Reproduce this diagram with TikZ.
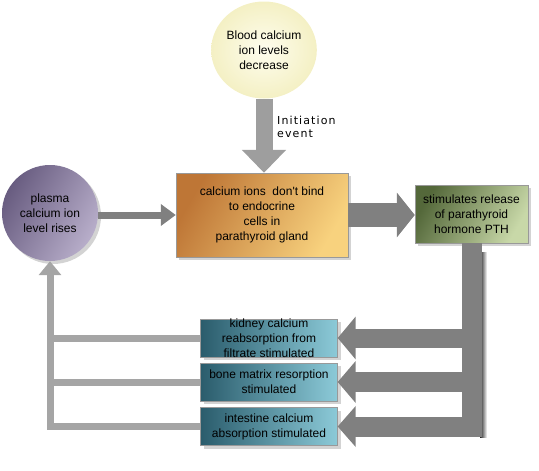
\documentclass[tikz,border=0pt]{standalone}
\usepackage{fontspec}
\setmainfont{Liberation Sans}
\newfontfamily\notefont{DejaVu Sans}[LetterSpace=10]
\usetikzlibrary{arrows.meta,shadows,shapes.geometric}
\definecolor{flowgray}{RGB}{128,128,128}
\definecolor{liftgray}{RGB}{158,158,158}
\definecolor{backgray}{RGB}{165,165,165}
\definecolor{bloodin}{RGB}{254,253,238}
\definecolor{bloodout}{RGB}{244,240,196}
\definecolor{plasmaA}{RGB}{104,92,128}
\definecolor{plasmaB}{RGB}{184,174,202}
\definecolor{glandA}{RGB}{190,118,54}
\definecolor{glandB}{RGB}{248,210,126}
\definecolor{pthA}{RGB}{84,104,58}
\definecolor{pthB}{RGB}{200,216,168}
\definecolor{tealA}{RGB}{42,92,108}
\definecolor{tealB}{RGB}{140,202,216}
\begin{document}
\begin{tikzpicture}[x=1pt, y=-1pt, >=Triangle,
  every node/.style={font=\fontsize{12}{15}\selectfont, align=center, inner sep=0pt},
  boxshadow/.style={drop shadow={shadow xshift=3pt, shadow yshift=-3pt, opacity=.35}},
  box/.style={rectangle, draw=gray!80, boxshadow},
  effect/.style={box, minimum width=137pt, minimum height=38pt, left color=tealA, right color=tealB},
  flow/.style={draw=flowgray, line width=#1},
  back/.style={draw=backgray, line width=7pt}
]
\useasboundingbox (0,0) rectangle (539,471);

\node[ellipse, minimum width=84pt, minimum height=97pt, inner color=bloodin, outer color=bloodout] (blood) at (264,50) {Blood calcium\\ion levels\\decrease};
\node[anchor=north west, align=left, font=\notefont\fontsize{11}{13}\selectfont] (note) at (277,116) {Initiation\\event};
\node[circle, minimum size=96pt, left color=plasmaA, right color=plasmaB, shading angle=60, boxshadow] (plasma) at (50,213) {plasma\\calcium ion\\level rises};
\node[box, minimum width=172pt, minimum height=84pt, left color=glandA, right color=glandB, shading angle=60] (gland) at (262,215) {calcium ions~ don\textquotesingle t bind\\to endocrine\\cells in\\parathyroid gland};
\node[box, minimum width=113pt, minimum height=58pt, left color=pthA, right color=pthB, shading angle=60] (pth) at (471.5,214) {stimulates release\\of parathyroid\\hormone PTH};
\node[effect, inner ysep=-4pt] (kidney) at (269,338) {kidney calcium\\reabsorption from\\filtrate stimulated};
\node[effect] (bone) at (269,382) {bone matrix resorption\\stimulated};
\node[effect] (intestine) at (269,426.5) {intestine calcium\\absorption stimulated};

\draw[flow=17pt, draw=liftgray, -{Triangle[width=43pt,length=23pt]}] (blood.south) -- (blood.south |- gland.north);
\draw[flow=7pt, -{Triangle[width=21pt,length=15pt]}] (plasma.east |- gland) -- (gland.west);
\draw[flow=24pt, -{Triangle[width=44pt,length=18pt]}] (gland.east) -- (gland.east -| pth.west);

\shade[left color=black!85, right color=white] (480,252) rectangle (487,437);
\draw[flow=19pt, -{Triangle[width=42pt,length=18pt]}] (pth.south) |- (kidney.east);
\draw[flow=20pt, -{Triangle[width=41pt,length=18pt]}] (pth.south) |- (bone.east);
\draw[flow=20pt, -{Triangle[width=40pt,length=18pt]}] (pth.south) |- (intestine.east);

\draw[back] (kidney.west) -- (kidney.west -| plasma.south);
\draw[back] (bone.west) -- (bone.west -| plasma.south);
\draw[back, -{Triangle[width=22pt,length=14pt]}] (intestine.west) -| (plasma.south);
\end{tikzpicture}
\end{document}
